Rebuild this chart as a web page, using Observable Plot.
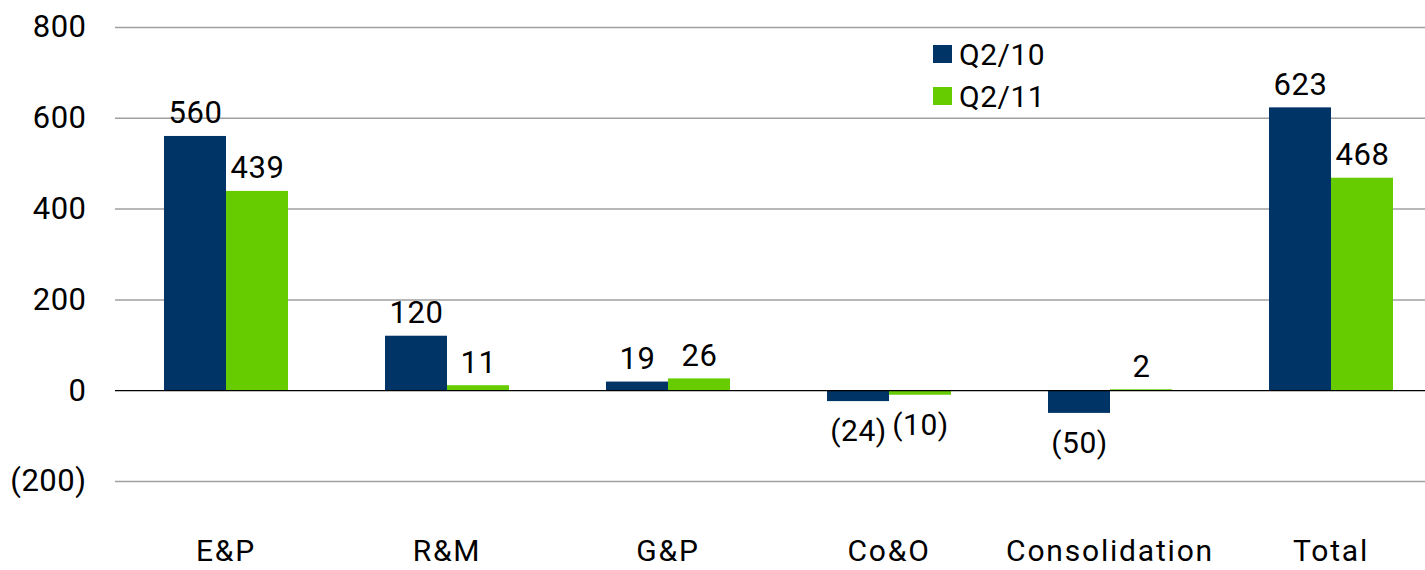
<!DOCTYPE html>
<html>
<head>
<meta charset="utf-8">
<script src="https://cdn.jsdelivr.net/npm/d3@7"></script>
<script src="https://cdn.jsdelivr.net/npm/@observablehq/plot@0.6"></script>
<style>
  html, body { margin: 0; padding: 0; background: #fff; overflow: hidden; }
  #wrap { position: relative; width: 1425px; height: 570px; font-family: Roboto, sans-serif; }
  #legend { position: absolute; left: 933px; top: 33px; font-size: 30px; letter-spacing: 0.5px; color: #000; }
  #legend .item { display: flex; align-items: center; height: 42px; }
  #legend .sw { width: 19px; height: 18px; margin-right: 7px; }
  .cat-axis text { letter-spacing: 1.8px; }
</style>
</head>
<body>
<div id="wrap"><div id="legend"></div></div>
<script>
// Segment results by quarter
const categories = ["E&P", "R&M", "G&P", "Co&O", "Consolidation", "Total"];
const seriesNames = ["Q2/10", "Q2/11"];
const q210 = [560, 120, 19, -24, -50, 623];
const q211 = [439, 11, 26, -10, 2, 468];
const yTicks = [-200, 0, 200, 400, 600, 800];
const colors = ["#003366", "#66cc00"];

const rows = [];
categories.forEach((c, i) => {
  rows.push({category: c, series: seriesNames[0], value: q210[i]});
  rows.push({category: c, series: seriesNames[1], value: q211[i]});
});

// Negative numbers are shown in parentheses
const fmt = d => d < 0 ? `(${-d})` : `${d}`;

const chart = Plot.plot({
  width: 1425,
  height: 570,
  marginLeft: 115,
  marginRight: -16,
  marginTop: 27,
  marginBottom: 89,
  style: {fontFamily: "Roboto, sans-serif", letterSpacing: "0.5px", color: "#000", background: "#fff"},
  fx: {domain: categories, padding: 0, label: null},
  x: {domain: seriesNames, paddingInner: 0, paddingOuter: 0.754, axis: null},
  y: {domain: [-200, 800], label: null},
  color: {domain: seriesNames, range: colors},
  marks: [
    Plot.ruleY(yTicks.filter(d => d !== 0), {stroke: "#a0a0a0", strokeWidth: 1.5}),
    Plot.barY(rows, {fx: "category", x: "series", y: "value", fill: "series"}),
    Plot.ruleY([0], {stroke: "#000", strokeWidth: 1.3}),
    Plot.text(rows.filter(d => d.value >= 0), {
      fx: "category", x: "series", y: "value", text: d => fmt(d.value),
      lineAnchor: "bottom", dy: -13, fontSize: 31, fill: "#000"
    }),
    Plot.text(rows.filter(d => d.value < 0), {
      fx: "category", x: "series", y: "value", text: d => fmt(d.value),
      lineAnchor: "top", dy: 18, fontSize: 30, fill: "#000"
    }),
    Plot.axisY({ticks: yTicks, tickFormat: fmt, tickSize: 0, tickPadding: 29, fontSize: 31, label: null}),
    Plot.axisFx({anchor: "bottom", tickSize: 0, tickPadding: 58, fontSize: 30, label: null, className: "cat-axis"})
  ]
});

const wrap = document.getElementById("wrap");
wrap.insertBefore(chart, wrap.firstChild);

const legend = document.getElementById("legend");
seriesNames.forEach((s, i) => {
  const item = document.createElement("div");
  item.className = "item";
  const sw = document.createElement("span");
  sw.className = "sw";
  sw.style.background = colors[i];
  const label = document.createElement("span");
  label.textContent = s;
  item.appendChild(sw);
  item.appendChild(label);
  legend.appendChild(item);
});
</script>
</body>
</html>
